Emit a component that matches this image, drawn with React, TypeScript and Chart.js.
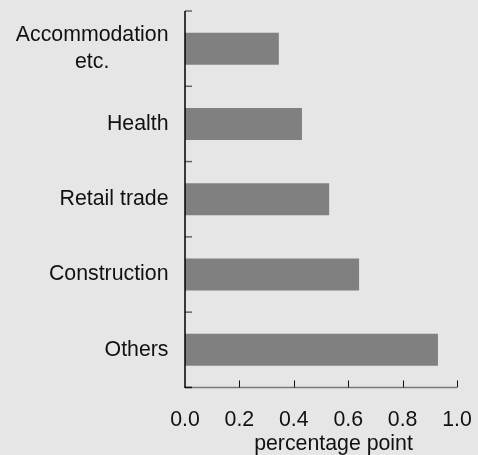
import React, { useEffect, useRef } from "react";
import { Chart, registerables } from "chart.js";

Chart.register(...registerables);

const categories: string[][] = [
  ["Accommodation", "etc."],
  ["Health"],
  ["Retail trade"],
  ["Construction"],
  ["Others"],
];
const values: number[] = [0.345, 0.43, 0.53, 0.64, 0.93];
const xTicks: number[] = [0, 0.2, 0.4, 0.6, 0.8, 1.0];
const xTitle = "percentage point";

const FONT_FAMILY = "'Liberation Sans', Arial, Helvetica, sans-serif";
const FONT_SIZE = 21.3;

const axesPlugin = {
  id: "customAxes",
  afterDraw(chart: any) {
    const ctx = chart.ctx;
    const area = chart.chartArea;
    const xs = chart.scales.x;
    const ys = chart.scales.y;
    ctx.save();
    // x axis line
    ctx.strokeStyle = "#7a7a7a";
    ctx.lineWidth = 1.5;
    ctx.beginPath();
    ctx.moveTo(area.left, area.bottom);
    ctx.lineTo(area.right, area.bottom);
    ctx.stroke();
    // x ticks upward
    ctx.strokeStyle = "#111";
    ctx.lineWidth = 1;
    xTicks.forEach((v, i) => {
      if (i === 0) return;
      const px = Math.round(xs.getPixelForValue(v)) + 0.5;
      ctx.beginPath();
      ctx.moveTo(px, area.bottom);
      ctx.lineTo(px, area.bottom - 7);
      ctx.stroke();
    });
    // y ticks at category boundaries
    const n = categories.length;
    const step = (ys.bottom - ys.top) / n;
    for (let i = 0; i <= n; i++) {
      const py = ys.top + i * step;
      ctx.strokeStyle = i === n ? "#111" : "#666";
      ctx.lineWidth = 1.5;
      ctx.beginPath();
      ctx.moveTo(area.left, py);
      ctx.lineTo(area.left + 7, py);
      ctx.stroke();
    }
    // y axis line
    ctx.strokeStyle = "#000";
    ctx.lineWidth = 1.5;
    ctx.beginPath();
    ctx.moveTo(area.left, area.top);
    ctx.lineTo(area.left, area.bottom + 0.5);
    ctx.stroke();

    // y labels
    ctx.fillStyle = "#111";
    ctx.font = `${FONT_SIZE}px ${FONT_FAMILY}`;
    ctx.textAlign = "center";
    ctx.textBaseline = "middle";
    const lineH = 26.3;
    const rightEdge = area.left - 16.5;
    categories.forEach((lines, i) => {
      const cy = ys.getPixelForValue(i);
      const widest = Math.max(...lines.map((l) => ctx.measureText(l).width));
      const cx = rightEdge - widest / 2;
      const startY = cy - ((lines.length - 1) * lineH) / 2;
      lines.forEach((l, j) => {
        ctx.fillText(l, cx, startY + j * lineH);
      });
    });

    // x title
    ctx.textAlign = "center";
    ctx.textBaseline = "middle";
    const tx = (xs.left + xs.right) / 2 + 12.5;
    ctx.fillText(xTitle, tx, chart.height - 11);
    ctx.restore();
  },
};

export default function App() {
  const ref = useRef<HTMLCanvasElement>(null);
  useEffect(() => {
    if (!ref.current) return;
    const chart = new Chart(ref.current, {
      type: "bar",
      data: {
        labels: categories.map((c) => c.join(" ")),
        datasets: [
          {
            data: values,
            backgroundColor: "#808080",
            borderWidth: 0,
            categoryPercentage: 1,
            barPercentage: 0.425,
          },
        ],
      },
      options: {
        indexAxis: "y",
        animation: false,
        responsive: false,
        devicePixelRatio: 1,
        layout: { padding: { top: 11, right: 21, left: 0, bottom: 2 } },
        plugins: {
          legend: { display: false },
          tooltip: { enabled: false },
          title: { display: false },
        },
        scales: {
          x: {
            type: "linear",
            min: 0,
            max: 1,
            afterBuildTicks: (scale: any) => {
              scale.ticks = xTicks.map((v) => ({ value: v }));
            },
            afterFit: (scale: any) => {
              scale.paddingRight = 15;
              scale.paddingLeft = 15;
            },
            grid: { display: false, drawTicks: false },
            border: { display: false },
            ticks: {
              padding: 20,
              color: "#111",
              font: { family: FONT_FAMILY, size: FONT_SIZE },
              callback: (v: any) => Number(v).toFixed(1),
              maxRotation: 0,
            },
          },
          y: {
            type: "category",
            grid: { display: false, drawTicks: false },
            border: { display: false },
            ticks: { display: false },
            afterFit: (scale: any) => {
              scale.width = 185;
            },
          },
        },
      },
      plugins: [axesPlugin],
    });
    return () => chart.destroy();
  }, []);
  return (
    <div
      style={{
        position: "fixed",
        left: 0,
        top: 0,
        width: 478,
        height: 455,
        background: "#e6e6e6",
      }}
    >
      <canvas ref={ref} width={478} height={455} />
    </div>
  );
}
